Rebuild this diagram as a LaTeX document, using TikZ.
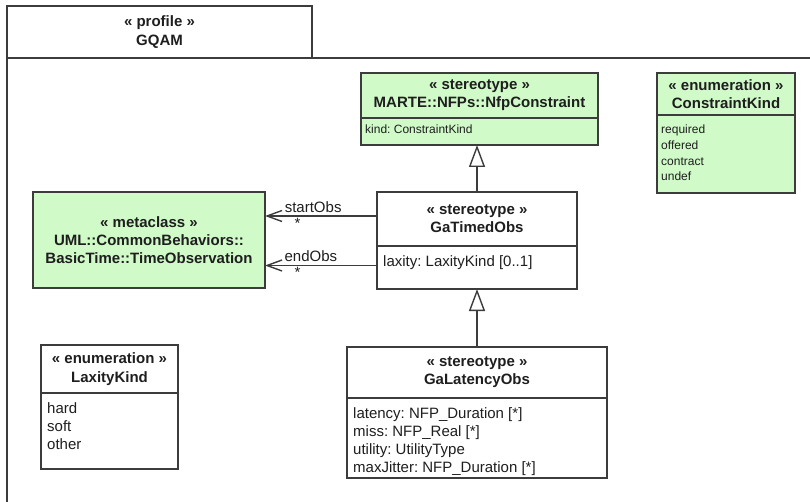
\documentclass[tikz,border=0pt]{standalone}
\usepackage{fontspec}
\setmainfont{Liberation Sans}
\usepackage{xcolor}
\usepackage{tikz}
\usetikzlibrary{positioning, arrows.meta}
\frenchspacing
\definecolor{umlgreen}{RGB}{208,250,200}
\definecolor{umlline}{RGB}{60,60,60}
\definecolor{umltext}{RGB}{30,30,30}
\tikzstyle{Head} = [
draw=umlline, line width=1.4pt, inner sep=0pt, outer sep=0pt,
align=center, text=umltext,
font=\fontsize{15}{18.3}\selectfont\bfseries
]
\tikzstyle{Comp} = [draw=umlline, line width=1.4pt, inner sep=0pt, outer sep=0pt]
\tikzstyle{Attr} = [
anchor=north west, inner sep=0pt, align=left, text=umltext,
font=\fontsize{15}{18.3}\selectfont
]
\tikzstyle{SmallAttr} = [Attr, font=\fontsize{12}{15.7}\selectfont]
\tikzstyle{Label} = [text=umltext, font=\fontsize{15}{18}\selectfont, inner sep=1pt]
\tikzstyle{Gen} = [
line width=1.4pt, draw=umlline,
-{Triangle[open, length=22pt, width=16pt, fill=white]}
]
\tikzstyle{Assoc} = [
line width=1.4pt, draw=umlline,
-{Straight Barb[length=15pt, width=11pt]}
]

\begin{document}
\begin{tikzpicture}[x=1pt, y=1pt]
	\useasboundingbox (0,0) rectangle (810,-502);
	
	% package frame
	\node[Head, minimum width=305pt, minimum height=52pt] (tab) at (159.5,-32) {« profile »\\GQAM};
	\coordinate (frameBL) at (7,-502);
	\coordinate (frameR) at (810,-58);
	\draw[line width=1.6pt, umlline] (frameBL) -- (tab.south west) -- (tab.south west -| frameR);
	
	% classes
	\node[Head, fill=umlgreen, minimum width=237pt, minimum height=45pt] (nfp) at (479.5,-95.5) {« stereotype »\\MARTE::NFPs::NfpConstraint};
	\node[Comp, fill=umlgreen, minimum width=237pt, minimum height=27pt, below=0pt of nfp] (nfpattr) {};
	\node[SmallAttr] (nfpattrtext) at ([xshift=4pt, yshift=-7pt]nfpattr.north west) {kind: ConstraintKind};
	
	\node[Head, fill=umlgreen, minimum width=138pt, minimum height=42pt] (ck) at (726,-94) {« enumeration »\\ConstraintKind};
	\node[Comp, fill=umlgreen, minimum width=138pt, minimum height=78pt, below=0pt of ck] (ckattr) {};
	\node[SmallAttr] (ckattrtext) at ([xshift=4pt, yshift=-10pt]ckattr.north west) {required\\offered\\contract\\undef};
	
	\node[Head, fill=umlgreen, minimum width=232pt, minimum height=96pt] (tobs) at (149,-240) {« metaclass »\\UML::CommonBehaviors::\\BasicTime::TimeObservation};
	
	\node[Head, minimum width=200pt, minimum height=54pt] (gto) at (477,-219) {« stereotype »\\GaTimedObs};
	\node[Comp, minimum width=200pt, minimum height=43pt, below=0pt of gto] (gtoattr) {};
	\node[Attr] (gtoattrtext) at ([xshift=6pt, yshift=-9pt]gtoattr.north west) {laxity: LaxityKind [0..1]};
	
	\node[Head, minimum width=260pt, minimum height=51pt] (glo) at (477,-372.5) {« stereotype »\\GaLatencyObs};
	\node[Comp, minimum width=260pt, minimum height=80pt, below=0pt of glo] (gloattr) {};
	\node[Attr] (gloattrtext) at ([xshift=6pt, yshift=-9pt]gloattr.north west) {latency: NFP\_Duration [*]\\miss: NFP\_Real [*]\\utility: UtilityType\\maxJitter: NFP\_Duration [*]};
	
	\node[Head, minimum width=137pt, minimum height=48pt] (lk) at (109.5,-369) {« enumeration »\\LaxityKind};
	\node[Comp, minimum width=137pt, minimum height=76pt, below=0pt of lk] (lkattr) {};
	\node[Attr] (lkattrtext) at ([xshift=6pt, yshift=-9pt]lkattr.north west) {hard\\soft\\other};
	
	% relations
	\draw[Gen] (gto.north) -- (gto.north |- nfpattr.south);
	\draw[Gen] (glo.north) -- (gtoattr.south);
	\draw[Assoc] ([yshift=3pt]gto.west) -- ([yshift=3pt]gto.west -| tobs.east)
		node[Label, pos=0.57, above, yshift=2pt] {startObs}
		node[Label, pos=0.71, below] {*};
	\draw[Assoc] ([yshift=2pt]gtoattr.west) -- ([yshift=2pt]gtoattr.west -| tobs.east)
		node[Label, pos=0.59, above, yshift=2pt] {endObs}
		node[Label, pos=0.71, below] {*};
\end{tikzpicture}
\end{document}
